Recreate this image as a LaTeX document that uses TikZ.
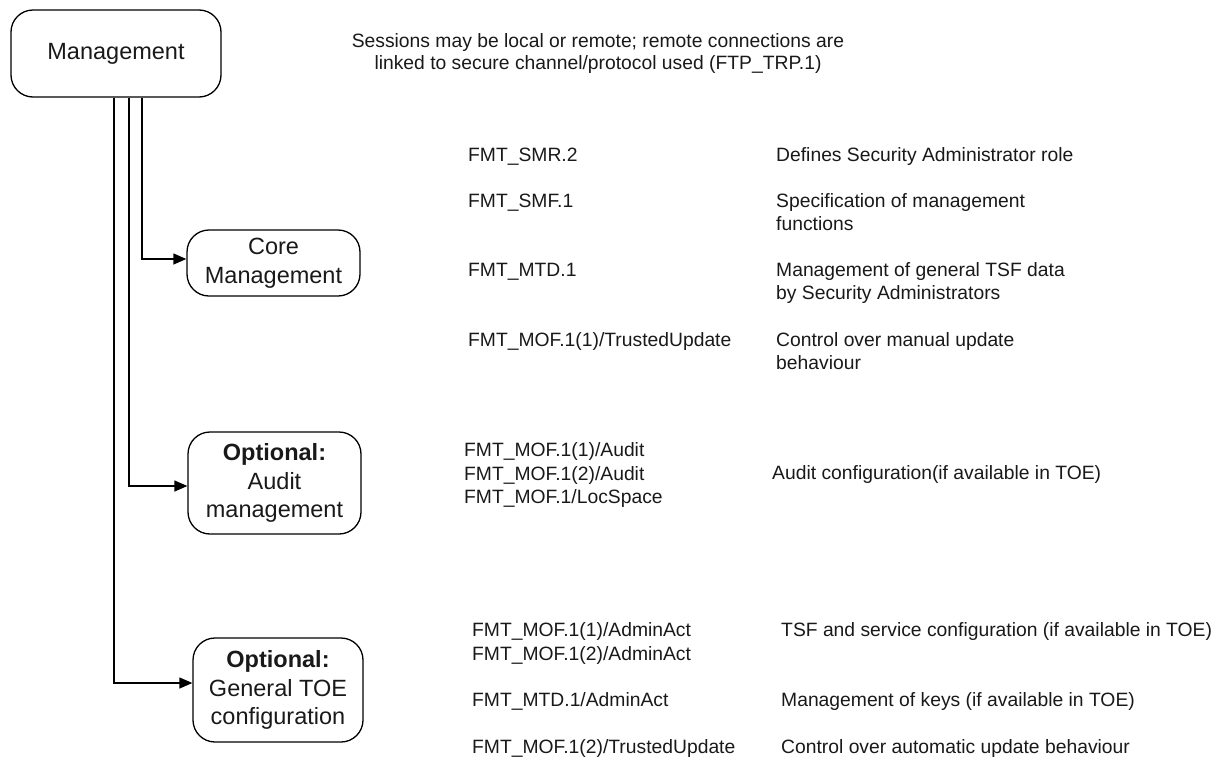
\documentclass[tikz,border=0pt]{standalone}
\usepackage{fontspec}
\setmainfont{Liberation Sans}
\usetikzlibrary{arrows.meta}
\begin{document}
\begin{tikzpicture}[x=1pt,y=-1pt,
  box/.style={draw, line width=1.3pt, rounded corners=22pt, align=center, inner sep=0pt, text=black!90, font=\fontsize{23.5}{28.5}\selectfont},
  lbl/.style={anchor=base west, inner sep=0pt, align=left, text=black!90, font=\fontsize{19.3}{23}\selectfont},
  conn/.style={line width=1.3pt, -{Triangle[length=13pt,width=11pt]}}]
\useasboundingbox (0,0) rectangle (1221,758);
% boxes
\node[box, minimum width=210pt, minimum height=87pt] (mgmt) at (116,53.5) {Management};
\node[box, minimum width=173pt, minimum height=66pt] (core) at (273.5,263) {Core\\Management};
\node[box, minimum width=173pt, minimum height=102pt] (audit) at (274.5,483) {\textbf{Optional:}\\Audit\\management};
\node[box, minimum width=170pt, minimum height=104pt] (gen) at (278,690) {\textbf{Optional:}\\General TOE\\configuration};
% connectors
\draw[conn] ([xshift=26pt]mgmt.south) |- ([yshift=4pt]core.west);
\draw[conn] ([xshift=13pt]mgmt.south) |- ([yshift=-3pt]audit.west);
\draw[conn] ([xshift=-2pt]mgmt.south) |- ([yshift=7pt]gen.west);
% note (base anchor = last line)
\node[lbl, anchor=base, align=center, font=\fontsize{19.3}{22}\selectfont] (note) at (598,69.5) {Sessions may be local or remote; remote connections are\\linked to secure channel/protocol used (FTP\_TRP.1)};
% core SFRs
\node[lbl] (f1) at (468,161) {FMT\_SMR.2};
\node[lbl] (d1) at (776,161) {Defines Security Administrator role};
\node[lbl] (f2) at (468,207.5) {FMT\_SMF.1};
\node[lbl] (d2) at (776,230.5) {Specification of management\\functions};
\node[lbl] (f3) at (468,276.5) {FMT\_MTD.1};
\node[lbl] (d3) at (776,299.5) {Management of general TSF data\\by Security Administrators};
\node[lbl] (f4) at (468,346.5) {FMT\_MOF.1(1)/TrustedUpdate};
\node[lbl] (d4) at (776,369.5) {Control over manual update\\behaviour};
% audit SFRs
\node[lbl, font=\fontsize{19.3}{23.5}\selectfont] (f5) at (464,503.5) {FMT\_MOF.1(1)/Audit\\FMT\_MOF.1(2)/Audit\\FMT\_MOF.1/LocSpace};
\node[lbl] (d5) at (772,479.5) {Audit configuration(if available in TOE)};
% general SFRs
\node[lbl, font=\fontsize{19.3}{24}\selectfont] (f6) at (472,660.5) {FMT\_MOF.1(1)/AdminAct\\FMT\_MOF.1(2)/AdminAct};
\node[lbl] (d6) at (781,636.5) {TSF and service configuration (if available in TOE)};
\node[lbl] (f7) at (472,706.5) {FMT\_MTD.1/AdminAct};
\node[lbl] (d7) at (781,706.5) {Management of keys (if available in TOE)};
\node[lbl] (f8) at (472,753.5) {FMT\_MOF.1(2)/TrustedUpdate};
\node[lbl] (d8) at (781,753.5) {Control over automatic update behaviour};
\end{tikzpicture}
\end{document}
